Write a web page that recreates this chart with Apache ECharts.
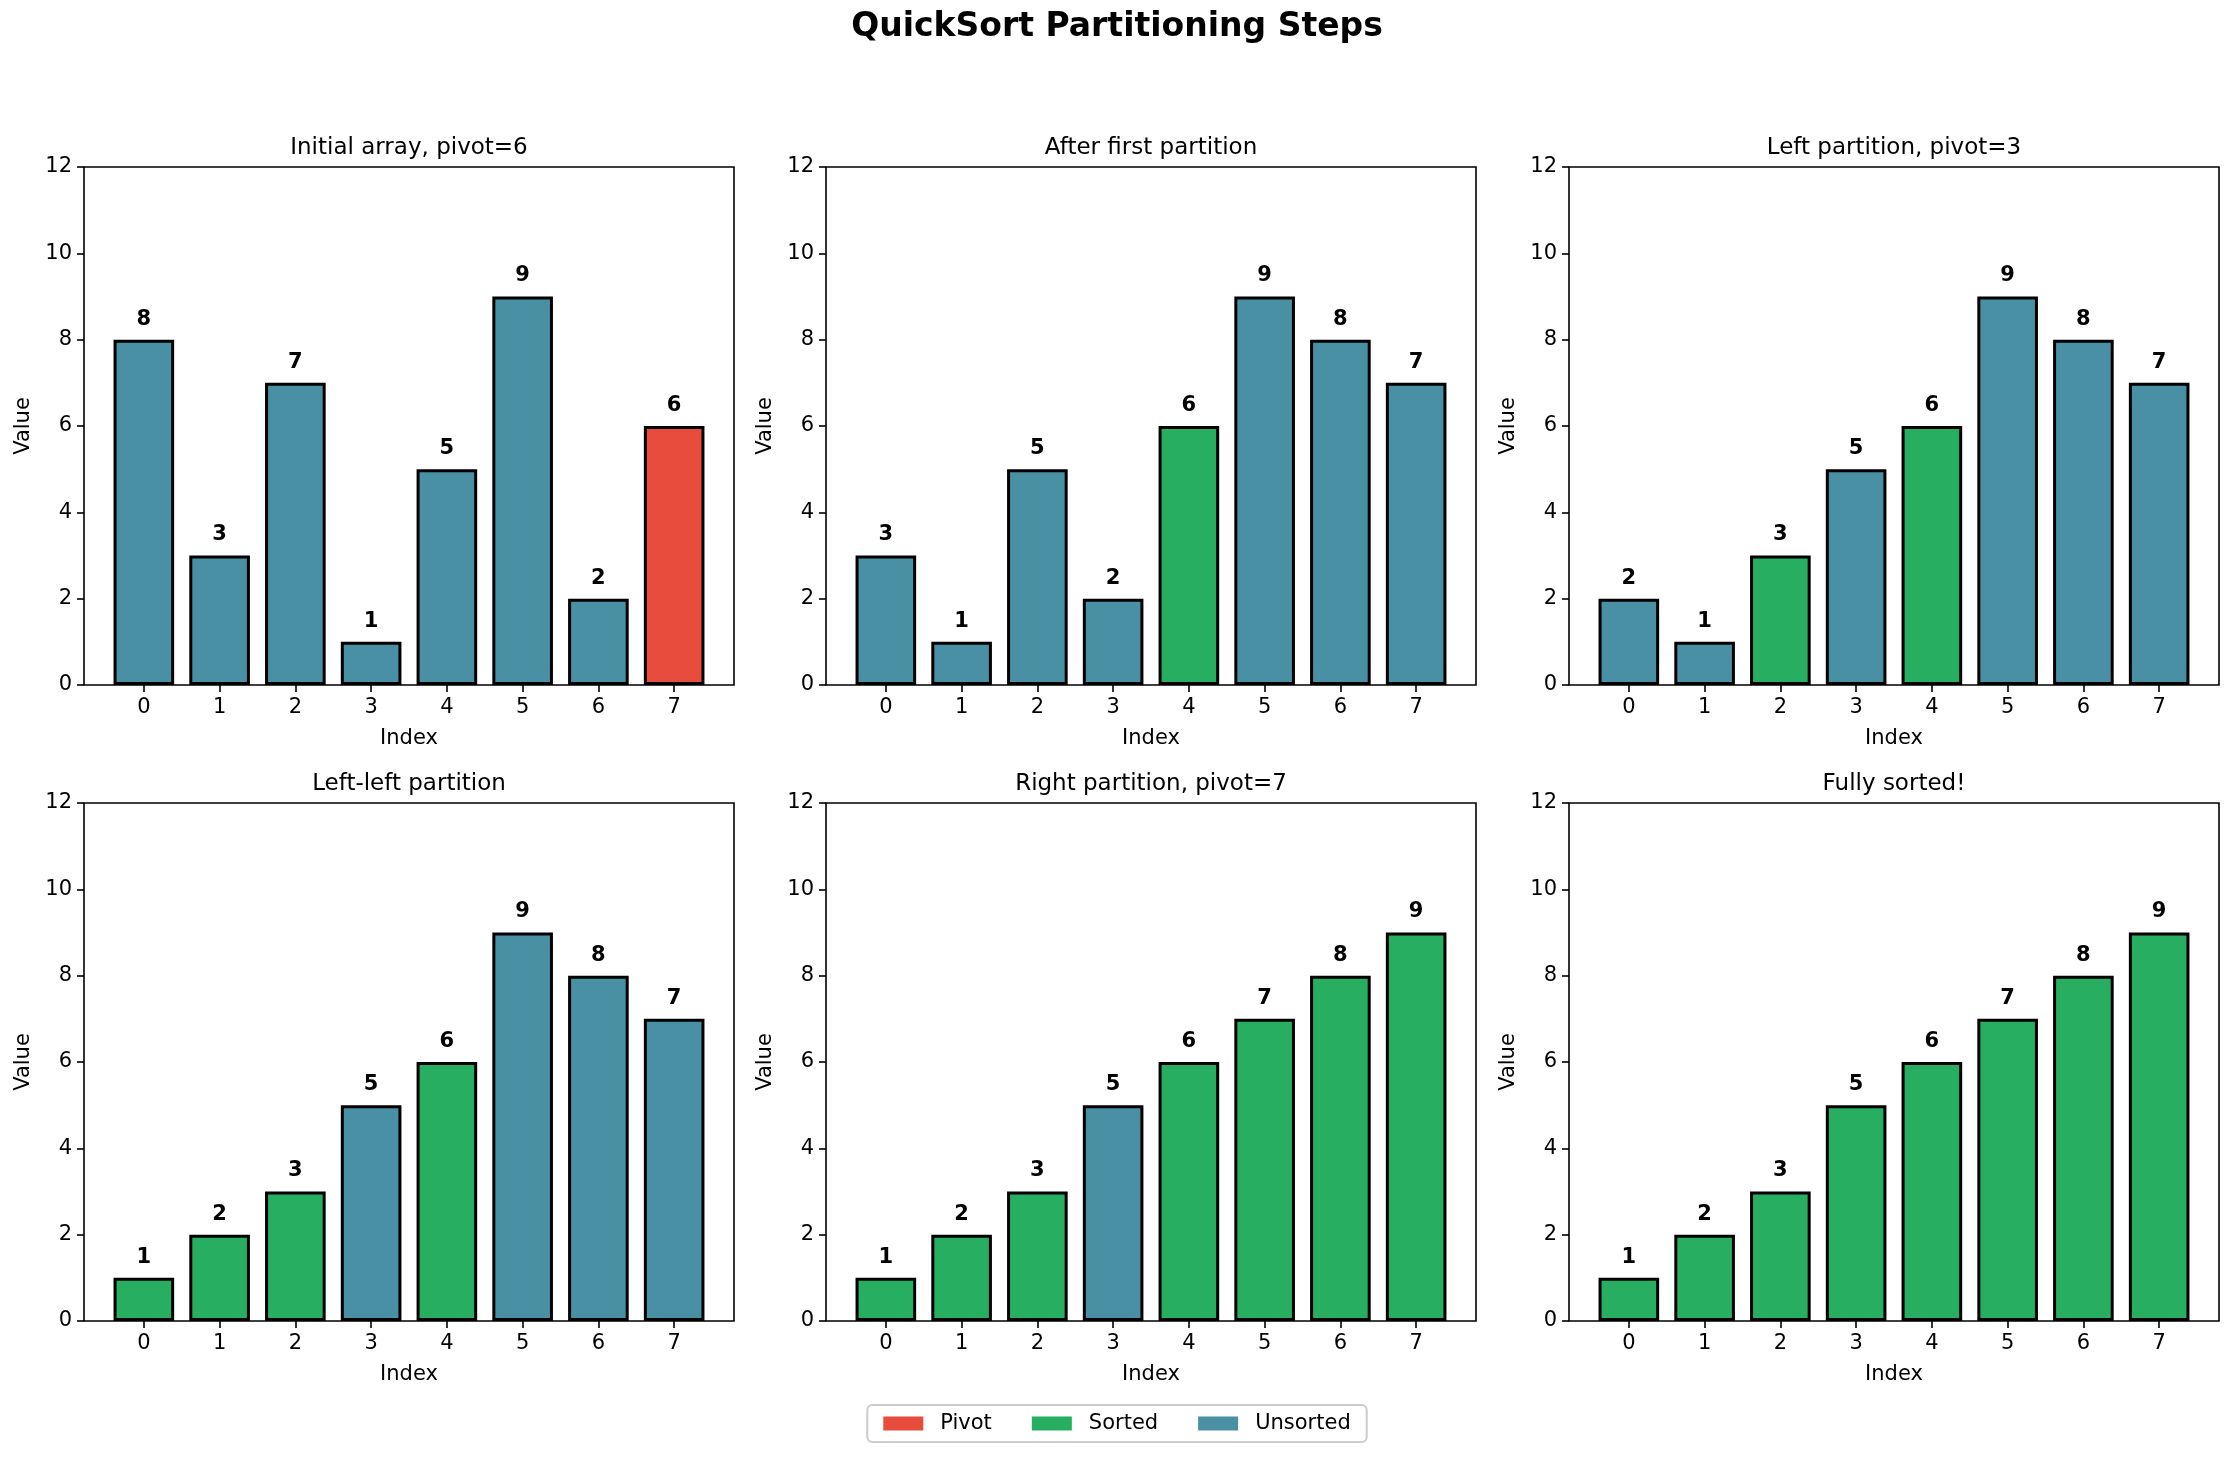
<!DOCTYPE html>
<html>
<head>
<meta charset="utf-8">
<script src="https://cdn.jsdelivr.net/npm/echarts@6/dist/echarts.min.js"></script>
<style>
  html, body { margin: 0; padding: 0; background: #fff; }
  #chart { width: 2234px; height: 1459px; }
</style>
</head>
<body>
<div id="chart"></div>
<script>
const indices = [0, 1, 2, 3, 4, 5, 6, 7]
const yTicks = [0, 2, 4, 6, 8, 10, 12]
const panelTitles = [
  'Initial array, pivot=6',
  'After first partition',
  'Left partition, pivot=3',
  'Left-left partition',
  'Right partition, pivot=7',
  'Fully sorted!'
]
const values1 = [8, 3, 7, 1, 5, 9, 2, 6]
const values2 = [3, 1, 5, 2, 6, 9, 8, 7]
const values3 = [2, 1, 3, 5, 6, 9, 8, 7]
const values4 = [1, 2, 3, 5, 6, 9, 8, 7]
const values5 = [1, 2, 3, 5, 6, 7, 8, 9]
const values6 = [1, 2, 3, 5, 6, 7, 8, 9]
// P = pivot, S = sorted, U = unsorted
const states1 = ['U', 'U', 'U', 'U', 'U', 'U', 'U', 'P']
const states2 = ['U', 'U', 'U', 'U', 'S', 'U', 'U', 'U']
const states3 = ['U', 'U', 'S', 'U', 'S', 'U', 'U', 'U']
const states4 = ['S', 'S', 'S', 'U', 'S', 'U', 'U', 'U']
const states5 = ['S', 'S', 'S', 'U', 'S', 'S', 'S', 'S']
const states6 = ['S', 'S', 'S', 'S', 'S', 'S', 'S', 'S']
const legendNames = ['Pivot', 'Sorted', 'Unsorted']
const stateKeys = ['P', 'S', 'U']

const panelValues = [values1, values2, values3, values4, values5, values6]
const panelStates = [states1, states2, states3, states4, states5, states6]
const colors = { P: '#e74c3c', S: '#27ae60', U: '#4a90a4' }

const font = 'DejaVu Sans'
const lefts = [84, 826, 1569]
const tops = [167, 803]
const W = 650
const H = 518

const grids = []
const xAxes = []
const yAxes = []
const titles = [{
  text: 'QuickSort Partitioning Steps',
  left: 'center',
  top: 11,
  padding: 0,
  textStyle: { fontFamily: font, fontSize: 33, fontWeight: 'bold', color: '#000' }
}]
const series = []

panelTitles.forEach((t, p) => {
  const col = p % 3
  const row = Math.floor(p / 3)
  grids.push({
    left: lefts[col], top: tops[row], width: W, height: H,
    show: true, borderColor: '#000', borderWidth: 1.6, backgroundColor: '#fff'
  })
  titles.push({
    text: t,
    left: lefts[col] + W / 2,
    top: tops[row] - 30,
    textAlign: 'center',
    padding: 0,
    textStyle: { fontFamily: font, fontSize: 23, fontWeight: 'normal', color: '#000' }
  })
  xAxes.push({
    gridIndex: p,
    type: 'value',
    min: -0.79,
    max: 7.79,
    name: 'Index',
    nameLocation: 'middle',
    nameGap: 43,
    nameTextStyle: { fontFamily: font, fontSize: 21, color: '#000' },
    axisLine: { show: false, onZero: false },
    axisTick: { show: true, length: 7, customValues: indices, lineStyle: { color: '#000', width: 1.6 } },
    axisLabel: { customValues: indices, margin: 12, fontFamily: font, fontSize: 21, color: '#000' },
    splitLine: { show: false }
  })
  yAxes.push({
    gridIndex: p,
    type: 'value',
    min: yTicks[0],
    max: yTicks[yTicks.length - 1],
    interval: 2,
    name: 'Value',
    nameLocation: 'middle',
    nameGap: 50,
    nameTextStyle: { fontFamily: font, fontSize: 21, color: '#000' },
    axisLine: { show: false, onZero: false },
    axisTick: { show: true, length: 7, lineStyle: { color: '#000', width: 1.6 } },
    axisLabel: { margin: 12, fontFamily: font, fontSize: 21, color: '#000' },
    splitLine: { show: false }
  })
  stateKeys.forEach((k, s) => {
    const data = []
    panelValues[p].forEach((v, i) => {
      if (panelStates[p][i] === k) data.push([indices[i], v])
    })
    series.push({
      name: legendNames[s],
      type: 'bar',
      xAxisIndex: p,
      yAxisIndex: p,
      barWidth: '80%',
      barGap: '-100%',
      data: data,
      itemStyle: { color: colors[k], borderColor: '#000', borderWidth: 3 },
      label: {
        show: true,
        position: 'top',
        distance: 10,
        fontFamily: font,
        fontSize: 21,
        fontWeight: 'bold',
        color: '#000',
        formatter: (d) => d.value[1]
      }
    })
  })
})

const chart = echarts.init(document.getElementById('chart'), null, { renderer: 'canvas' })
chart.setOption({
  animation: false,
  backgroundColor: '#fff',
  title: titles,
  legend: {
    data: legendNames,
    left: 'center',
    top: 1405,
    icon: 'rect',
    itemWidth: 40,
    itemHeight: 14,
    itemGap: 40,
    padding: [8, 16],
    borderColor: '#cccccc',
    borderWidth: 2,
    borderRadius: 5,
    itemStyle: { borderWidth: 0 },
    textStyle: { fontFamily: font, fontSize: 21, color: '#000', padding: [0, 0, 0, 12] }
  },
  grid: grids,
  xAxis: xAxes,
  yAxis: yAxes,
  series: series
})
</script>
</body>
</html>
